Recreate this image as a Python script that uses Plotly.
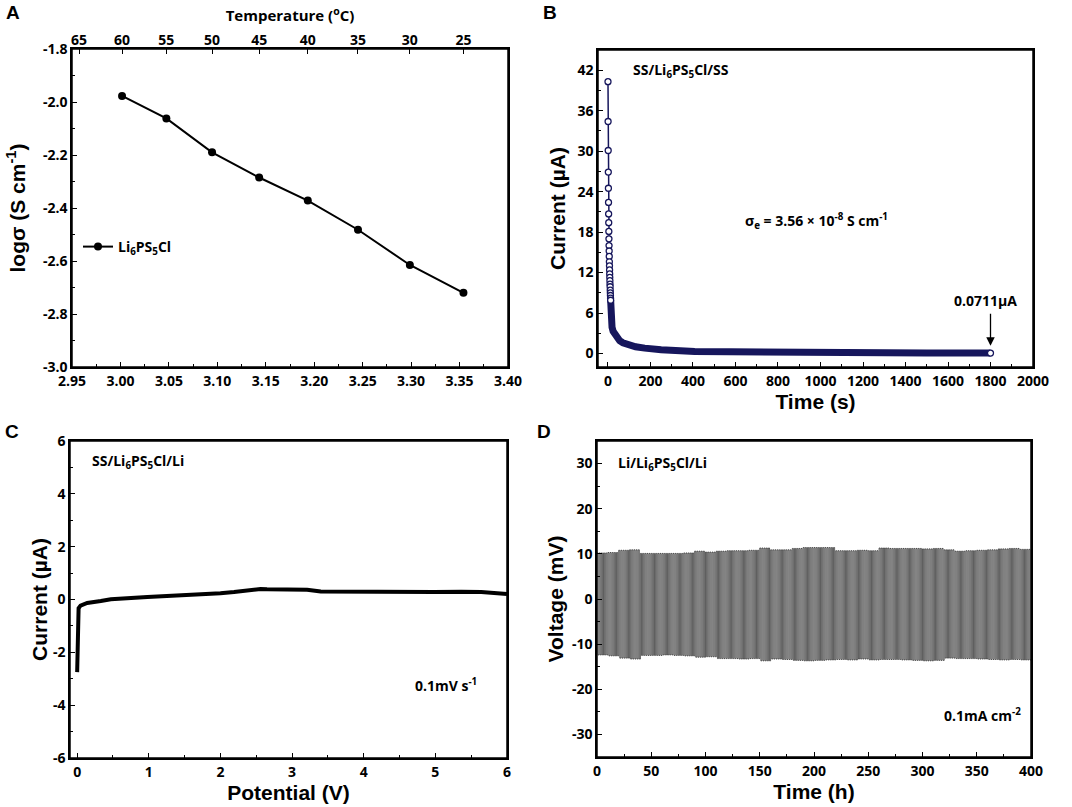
import plotly.graph_objects as go

W, H = 1072, 807

# ---- A: conductivity vs temperature
temp_c = [60, 55, 50, 45, 40, 35, 30, 25]
log_sigma = [-1.977, -2.062, -2.190, -2.285, -2.372, -2.482, -2.615, -2.720]
temp_ticks = [65, 60, 55, 50, 45, 40, 35, 30, 25]
a_yticks = [-3.0, -2.8, -2.6, -2.4, -2.2, -2.0, -1.8]

# ---- B: chronoamperometry (DC polarization)
t_early = [0, 0.5, 1, 1.5, 2, 2.5, 3, 3.5, 4, 4.5, 5, 5.5, 6, 6.5, 7, 7.5, 8,
           8.5, 9, 9.5, 10, 10.5, 11, 11.5, 12, 12.5]
i_early = [40.3, 34.4, 30.1, 26.9, 24.5, 22.4, 20.7, 19.4, 18.1, 17.0, 16.0,
           15.2, 14.4, 13.6, 13.0, 12.4, 11.8, 11.3, 10.8, 10.3, 9.9, 9.4,
           9.0, 8.6, 8.2, 7.9]
t_tail = [12.5, 13, 16, 19, 24, 32, 42, 55, 70, 94, 130, 173, 250, 408, 600,
          880, 1200, 1500, 1800]
i_tail = [7.9, 5.9, 4.7, 3.9, 3.3, 2.9, 2.3, 1.9, 1.6, 1.3, 1.0, 0.8, 0.55,
          0.3, 0.22, 0.15, 0.11, 0.09, 0.07]

# ---- C: linear sweep voltammetry
pot_v = [0, 0.005, 0.01, 0.02, 0.047, 0.14, 0.33, 0.47, 0.98, 1.49, 2.0, 2.19,
         2.56, 2.65, 2.98, 3.21, 3.4, 3.98, 4.52, 4.98, 5.36, 5.64, 6.0]
cur_ua = [-2.75, -1.6, -0.54, -0.33, -0.23, -0.13, -0.06, 0.01, 0.09, 0.15,
          0.24, 0.28, 0.40, 0.39, 0.38, 0.37, 0.30, 0.28, 0.27, 0.28, 0.29,
          0.28, 0.21]
c_yticks = [-6, -4, -2, 0, 2, 4, 6]

# ---- D: Li symmetric cell cycling, polarization per 10 h block
block_start_h = list(range(0, 400, 10))
v_upper = [10.2, 10.3, 10.8, 10.9, 10.1, 10.1, 10.1, 10.1, 10.2, 10.6,
           10.4, 10.6, 10.7, 10.7, 10.8, 11.3, 10.9, 10.9, 11.2, 11.4,
           11.4, 11.4, 10.7, 10.7, 10.8, 10.7, 11.3, 11.2, 11.2, 11.2,
           11.1, 11.2, 10.9, 10.6, 10.7, 10.8, 10.9, 11.1, 11.2, 11.0]
v_lower = [-12.4, -12.6, -13.1, -13.3, -12.5, -12.5, -12.4, -12.5, -12.6, -12.9,
           -12.8, -13.2, -13.2, -13.3, -13.2, -13.7, -13.3, -13.4, -13.6, -13.7,
           -13.6, -13.5, -13.4, -13.5, -13.3, -13.5, -13.4, -13.4, -13.5, -13.6,
           -13.7, -13.6, -13.1, -13.2, -13.2, -13.3, -13.4, -13.5, -13.4, -13.5]
half_cycle_h = 1
d_yticks = [-30, -20, -10, 0, 10, 20, 30]

# square wave: 1 h plating / 1 h stripping
sq_t, sq_v = [], []
for t0, up, lo in zip(block_start_h, v_upper, v_lower):
    t = t0
    while t < t0 + 10:
        sq_t += [t, t + half_cycle_h, t + half_cycle_h, t + 2 * half_cycle_h]
        sq_v += [up, up, lo, lo]
        t += 2 * half_cycle_h

inv_t = [1000 / (c + 273.15) for c in temp_c]
temp_pos = [1000 / (c + 273.15) for c in temp_ticks]

NAVY = "#16165c"
TICKF = dict(family="Open Sans", size=14, color="black", weight="bold")
TITLEF = dict(family="Liberation Sans", size=21, color="black", weight="bold")
LABF = dict(family="Open Sans", size=14, color="black", weight="bold")


def px_x(a, b):
    return [a / W, b / W]


def px_y(top, bottom):
    return [1 - bottom / H, 1 - top / H]


def hyphen_labels(vals, fmt):
    return [format(v, fmt) for v in vals]


fig = go.Figure()

fig.add_trace(go.Scatter(x=inv_t, y=log_sigma, mode="lines+markers",
                         name="Li<sub>6</sub>PS<sub>5</sub>Cl",
                         line=dict(color="black", width=2),
                         marker=dict(color="black", size=8),
                         xaxis="x", yaxis="y"))

fig.add_trace(go.Scatter(x=t_tail, y=i_tail, mode="lines",
                         line=dict(color=NAVY, width=7),
                         showlegend=False, xaxis="x2", yaxis="y2"))
fig.add_trace(go.Scatter(x=t_early, y=i_early, mode="lines+markers",
                         line=dict(color=NAVY, width=1.5),
                         marker=dict(symbol="circle", size=6, color="white",
                                     line=dict(color=NAVY, width=1.3)),
                         showlegend=False, xaxis="x2", yaxis="y2"))
fig.add_trace(go.Scatter(x=t_tail[-1:], y=i_tail[-1:], mode="markers",
                         marker=dict(symbol="circle", size=6, color="white",
                                     line=dict(color=NAVY, width=1.3)),
                         showlegend=False, xaxis="x2", yaxis="y2"))

fig.add_trace(go.Scatter(x=pot_v, y=cur_ua, mode="lines",
                         line=dict(color="black", width=4),
                         showlegend=False, xaxis="x3", yaxis="y3"))

fig.add_trace(go.Scatter(x=sq_t, y=sq_v, mode="lines",
                         line=dict(color="#1a1a1a", width=0.7),
                         showlegend=False, xaxis="x4", yaxis="y4"))

# invisible trace to activate the top temperature axis of panel A
fig.add_trace(go.Scatter(x=inv_t, y=log_sigma, mode="markers",
                         marker=dict(opacity=0), hoverinfo="skip",
                         showlegend=False, xaxis="x5", yaxis="y"))

common = dict(showline=True, linecolor="black", linewidth=1.5, mirror=True,
              ticks="inside", ticklen=5, tickwidth=1.3, tickcolor="black",
              showgrid=False, zeroline=False, tickfont=TICKF,
              automargin=False)


def minor(step):
    return dict(dtick=step, ticks="inside", ticklen=3, tickwidth=1.2,
                tickcolor="black", showgrid=False)


fig.update_layout(
    width=W, height=H, margin=dict(l=0, r=0, t=0, b=0),
    paper_bgcolor="white", plot_bgcolor="white",
    showlegend=True,
    legend=dict(x=78 / W, y=1 - 247 / H, xanchor="left", yanchor="middle",
                font=dict(family="Open Sans", size=14, color="black",
                          weight="bold"),
                bgcolor="rgba(0,0,0,0)", itemwidth=30),
    xaxis=dict(domain=px_x(72, 508), range=[2.95, 3.40], dtick=0.05,
               tickformat=".2f", minor=minor(0.025), anchor="y", **common),
    yaxis=dict(domain=px_y(49, 367), range=[-3.0, -1.8],
               tickvals=a_yticks, ticktext=hyphen_labels(a_yticks, ".1f"),
               minor=minor(0.1), anchor="x",
               title=dict(text="logσ (S cm<sup>-1</sup>)", font=TITLEF,
                          standoff=12), **common),
    xaxis5=dict(overlaying="x", side="top", range=[2.95, 3.40],
                tickvals=temp_pos, ticktext=[str(c) for c in temp_ticks],
                ticks="inside", ticklen=5, tickwidth=1.3, tickcolor="black",
                showgrid=False, zeroline=False, showline=False, tickfont=TICKF,
                anchor="y", automargin=False,
                title=dict(text="Temperature (<sup>o</sup>C)", standoff=4,
                           font=dict(family="Open Sans", size=15, color="black",
                                     weight="bold"))),
    xaxis2=dict(domain=px_x(598, 1033), range=[-47, 2000], dtick=200,
                minor=minor(100), anchor="y2",
                title=dict(text="Time (s)", font=TITLEF, standoff=4), **common),
    yaxis2=dict(domain=px_y(50, 367), range=[-2, 45], dtick=6,
                minor=minor(3), anchor="x2",
                title=dict(text="Current (µA)", font=TITLEF, standoff=6),
                **common),
    xaxis3=dict(domain=px_x(70, 507), range=[-0.1, 6.0], dtick=1,
                minor=minor(0.5), anchor="y3",
                title=dict(text="Potential (V)", font=TITLEF, standoff=2),
                **common),
    yaxis3=dict(domain=px_y(441, 758), range=[-6, 6],
                tickvals=c_yticks, ticktext=hyphen_labels(c_yticks, "d"),
                minor=minor(1), anchor="x3",
                title=dict(text="Current (µA)", font=TITLEF, standoff=0),
                **common),
    xaxis4=dict(domain=px_x(597, 1031), range=[0, 400], dtick=50,
                minor=minor(25), anchor="y4",
                title=dict(text="Time (h)", font=TITLEF, standoff=2), **common),
    yaxis4=dict(domain=px_y(441, 757), range=[-35, 35],
                tickvals=d_yticks, ticktext=hyphen_labels(d_yticks, "d"),
                minor=minor(5), anchor="x4",
                title=dict(text="Voltage (mV)", font=TITLEF, standoff=3),
                **common),
)

# panel frames
for xa, ya in [("x", "y"), ("x2", "y2"), ("x3", "y3"), ("x4", "y4")]:
    fig.add_shape(type="rect", xref=f"{xa} domain", yref=f"{ya} domain",
                  x0=0, x1=1, y0=0, y1=1, line=dict(color="black", width=1.5),
                  layer="above")

ann = []
for letter, x, y in [("A", 4, 12), ("B", 541, 12), ("C", 3, 432), ("D", 535, 432)]:
    ann.append(dict(text=letter, x=x / W, y=1 - y / H, xref="paper",
                    yref="paper", xanchor="left", yanchor="middle",
                    showarrow=False,
                    font=dict(family="Liberation Sans", size=19,
                              color="black", weight="bold")))

ann += [
    dict(text="SS/Li<sub>6</sub>PS<sub>5</sub>Cl/SS", x=110, y=41.9,
         xref="x2", yref="y2", xanchor="left", yanchor="middle",
         showarrow=False, font=LABF),
    dict(text="σ<sub>e</sub> = 3.56 × 10<sup>-8</sup> S cm<sup>-1</sup>",
         x=982, y=19.7, xref="x2", yref="y2", xanchor="center",
         yanchor="middle", showarrow=False, font=LABF),
    dict(text="0.0711µA", x=1778, y=7.8, xref="x2", yref="y2",
         xanchor="center", yanchor="middle", showarrow=False, font=LABF),
    dict(text="", x=1800, y=1.15, ax=1800, ay=6.1, xref="x2", yref="y2",
         axref="x2", ayref="y2", showarrow=True, arrowhead=2, arrowsize=1.3,
         arrowwidth=1.3, arrowcolor="black"),
    dict(text="SS/Li<sub>6</sub>PS<sub>5</sub>Cl/Li", x=0.18, y=5.22,
         xref="x3", yref="y3", xanchor="left", yanchor="middle",
         showarrow=False, font=LABF),
    dict(text="0.1mV s<sup>-1</sup>", x=5.15, y=-3.24, xref="x3", yref="y3",
         xanchor="center", yanchor="middle", showarrow=False, font=LABF),
    dict(text="Li/Li<sub>6</sub>PS<sub>5</sub>Cl/Li", x=17.5, y=30.06,
         xref="x4", yref="y4", xanchor="left", yanchor="middle",
         showarrow=False, font=LABF),
    dict(text="0.1mA cm<sup>-2</sup>", x=393, y=-25.7, xref="x4", yref="y4",
         xanchor="right", yanchor="middle", showarrow=False, font=LABF),
]
fig.update_layout(annotations=ann)

fig.write_html("out.html", config={"displayModeBar": False},
               post_script="document.body.style.margin='0';")
